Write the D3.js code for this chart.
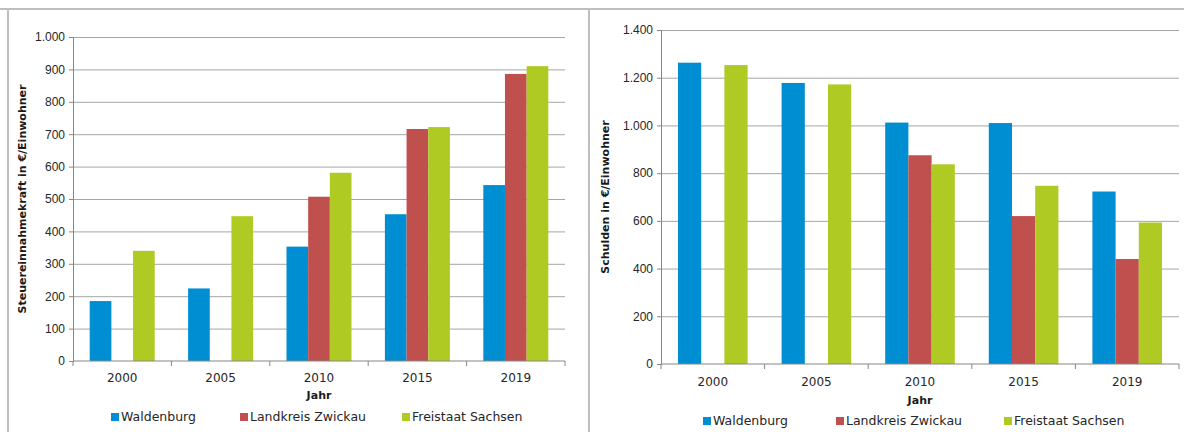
<!DOCTYPE html>
<html>
<head>
<meta charset="utf-8">
<script src="https://cdn.jsdelivr.net/npm/d3@7"></script>
<style>
  body { margin: 0; background: #fff; }
  svg { display: block; font-family: "DejaVu Sans", sans-serif; }
  .tick text { fill: #262626; font-size: 12px; }
  .grid line { stroke: #a6a6a6; }
  .axis-title { font-weight: bold; font-size: 11px; fill: #1a1a1a; }
  .legend text { font-size: 12.5px; fill: #262626; }
</style>
</head>
<body>
<svg id="chart" width="1184" height="432"></svg>
<script>
// Data
const years = ["2000", "2005", "2010", "2015", "2019"];
const seriesNames = ["Waldenburg", "Landkreis Zwickau", "Freistaat Sachsen"];
const colors = ["#008ed3", "#c0504d", "#afca22"];

// Steuereinnahmekraft (left), null = no bar
const taxWaldenburg = [185, 224, 353, 453, 543];
const taxZwickau = [null, null, 507, 716, 886];
const taxSachsen = [340, 447, 581, 722, 910];

// Schulden (right)
const debtWaldenburg = [1263, 1178, 1012, 1010, 723];
const debtZwickau = [null, null, 875, 620, 440];
const debtSachsen = [1253, 1172, 837, 747, 593];

const fmt = d3.format(",.0f");
const deFormat = v => fmt(v).replace(/,/g, ".");

const svg = d3.select("#chart");

// panel frames
svg.append("line").attr("x1", 0).attr("x2", 1184).attr("y1", 9).attr("y2", 9)
  .attr("stroke", "#bebebe").attr("stroke-width", 2);
svg.append("line").attr("x1", 8).attr("x2", 8).attr("y1", 8).attr("y2", 432)
  .attr("stroke", "#bebebe").attr("stroke-width", 2);
svg.append("line").attr("x1", 589).attr("x2", 589).attr("y1", 8).attr("y2", 432)
  .attr("stroke", "#bebebe").attr("stroke-width", 2);

function drawChart(opts) {
  const { x0, x1, yTop, yBottom, max, step, series, yLabel, yLabelX, tickY, jahrY, legendY, legendX, padOuter } = opts;

  const x = d3.scaleBand().domain(years).range([x0, x1]);
  const y = d3.scaleLinear().domain([0, max]).range([yBottom, yTop]);
  const bw = x.bandwidth();
  const barW = (bw - 2 * padOuter) / 3;

  const g = svg.append("g");

  // gridlines
  g.append("g")
    .attr("class", "grid")
    .attr("transform", `translate(${x0},0)`)
    .call(d3.axisLeft(y).tickValues(d3.range(step, max + 1, step)).tickSize(-(x1 - x0)).tickFormat(""))
    .call(s => s.select(".domain").remove());

  // y axis
  g.append("g")
    .attr("transform", `translate(${x0},0)`)
    .call(d3.axisLeft(y).tickValues(d3.range(0, max + 1, step)).tickSize(4).tickPadding(4).tickFormat(deFormat))
    .call(s => s.select(".domain").attr("stroke", "#868686"))
    .call(s => s.selectAll(".tick line").attr("stroke", "#868686"));

  // bars
  series.forEach((vals, si) => {
    g.append("g").selectAll("rect")
      .data(years.map((yr, i) => ({ yr, v: vals[i] })).filter(d => d.v != null))
      .join("rect")
      .attr("x", d => x(d.yr) + padOuter + si * barW)
      .attr("y", d => y(d.v))
      .attr("width", barW)
      .attr("height", d => y(0) - y(d.v))
      .attr("fill", colors[si]);
  });

  // x axis
  const xAxis = g.append("g").attr("transform", `translate(0,${yBottom})`);
  xAxis.append("line").attr("x1", x0).attr("x2", x1).attr("stroke", "#868686");
  d3.range(0, years.length + 1).forEach(i => {
    const xx = x0 + i * bw;
    xAxis.append("line").attr("x1", xx).attr("x2", xx).attr("y1", 0).attr("y2", 5).attr("stroke", "#868686");
  });
  xAxis.selectAll("text.yr").data(years).join("text")
    .attr("class", "yr")
    .attr("x", d => x(d) + bw / 2)
    .attr("y", tickY - yBottom)
    .attr("text-anchor", "middle")
    .attr("font-size", 12).attr("fill", "#262626")
    .text(d => d);

  // axis titles
  g.append("text").attr("class", "axis-title")
    .attr("x", x0 + 2 * bw + bw / 2).attr("y", jahrY)
    .attr("text-anchor", "middle").text("Jahr");

  g.append("text").attr("class", "axis-title")
    .attr("transform", `translate(${yLabelX},${(yTop + yBottom) / 2}) rotate(-90)`)
    .attr("text-anchor", "middle").text(yLabel);

  // legend
  const lg = g.append("g").attr("class", "legend");
  seriesNames.forEach((name, i) => {
    lg.append("rect").attr("x", legendX[i]).attr("y", legendY - 8)
      .attr("width", 8).attr("height", 8).attr("fill", colors[i]);
    lg.append("text").attr("x", legendX[i] + 10).attr("y", legendY).text(name);
  });
}

drawChart({
  x0: 73, x1: 565, yTop: 37, yBottom: 361, max: 1000, step: 100,
  series: [taxWaldenburg, taxZwickau, taxSachsen],
  yLabel: "Steuereinnahmekraft in €/Einwohner", yLabelX: 26,
  tickY: 382, jahrY: 399, legendY: 421, legendX: [111, 240, 402], padOuter: 16.7
});

drawChart({
  x0: 661, x1: 1179, yTop: 30, yBottom: 364, max: 1400, step: 200,
  series: [debtWaldenburg, debtZwickau, debtSachsen],
  yLabel: "Schulden in €/Einwohner", yLabelX: 609,
  tickY: 386, jahrY: 404, legendY: 425, legendX: [703, 836, 1004], padOuter: 17
});
</script>
</body>
</html>
